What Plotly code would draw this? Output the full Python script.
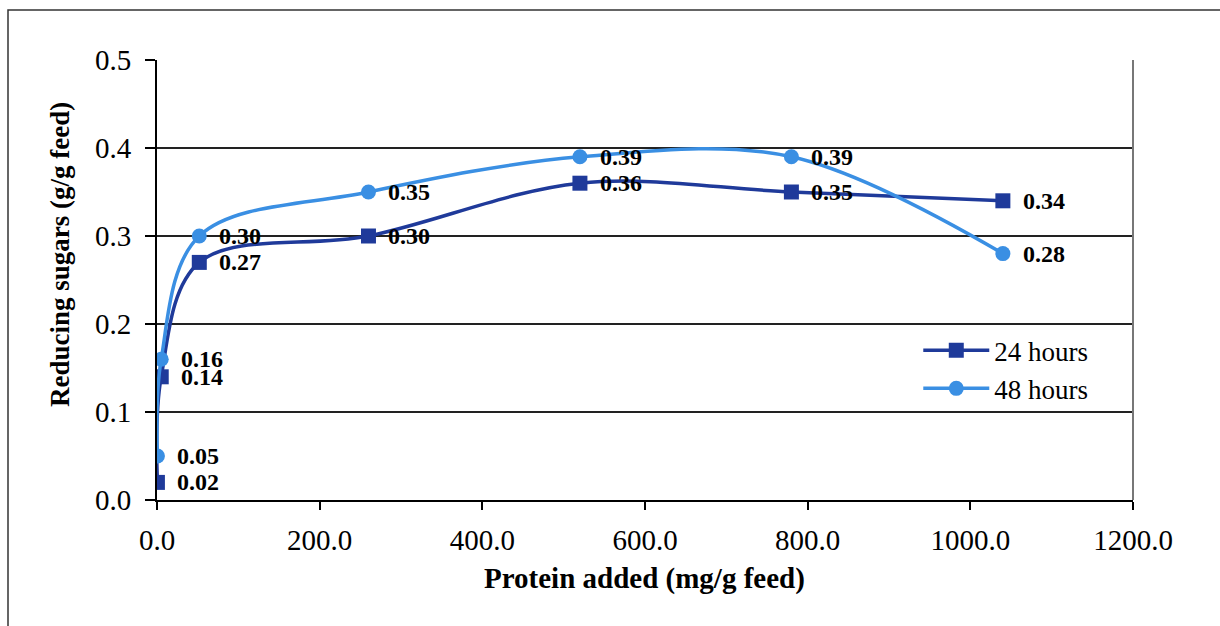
import plotly.graph_objects as go

protein = [0.52, 5.2, 52, 260, 520, 780, 1040]
sugars_24h = [0.02, 0.14, 0.27, 0.30, 0.36, 0.35, 0.34]
sugars_48h = [0.05, 0.16, 0.30, 0.35, 0.39, 0.39, 0.28]
x_ticks = [0, 200, 400, 600, 800, 1000, 1200]
y_ticks = [0.0, 0.1, 0.2, 0.3, 0.4, 0.5]

SERIF = "Liberation Serif, Times New Roman, serif"
C24 = "#1f3a9a"
C48 = "#3a8fe3"

fig = go.Figure()
fig.add_trace(go.Scatter(
    x=protein, y=sugars_24h, name="24 hours", mode="lines+markers",
    legendgroup="a",
    line=dict(color=C24, width=3.5, shape="spline", smoothing=1.0),
    marker=dict(symbol="square", size=15, color=C24),
))
fig.add_trace(go.Scatter(
    x=protein, y=sugars_48h, name="48 hours", mode="lines+markers",
    legendgroup="b",
    line=dict(color=C48, width=3.5, shape="spline", smoothing=1.0),
    marker=dict(symbol="circle", size=15, color=C48),
))

annotations = []
for series in (sugars_24h, sugars_48h):
    for xv, yv in zip(protein, series):
        annotations.append(dict(
            x=xv, y=yv, xref="x", yref="y", text=f"{yv:.2f}", showarrow=False,
            xanchor="left", yanchor="middle", xshift=18,
            font=dict(family=SERIF, size=24, color="black", weight="bold"),
        ))

annotations.append(dict(
    x=(644 - 157) / 976, y=(500 - 578) / 440, xref="paper", yref="paper",
    text="Protein added (mg/g feed)", showarrow=False,
    xanchor="center", yanchor="middle",
    font=dict(family=SERIF, size=29, color="black", weight="bold"),
))
annotations.append(dict(
    x=(60 - 157) / 976, y=(500 - 255) / 440, xref="paper", yref="paper",
    text="Reducing sugars (g/g feed)", showarrow=False, textangle=-90,
    xanchor="center", yanchor="middle",
    font=dict(family=SERIF, size=27, color="black", weight="bold"),
))

fig.update_layout(
    width=1220, height=626,
    margin=dict(l=157, r=87, t=60, b=126),
    paper_bgcolor="white", plot_bgcolor="white",
    font=dict(family=SERIF, color="black"),
    xaxis=dict(
        range=[0, 1200], tickvals=x_ticks, ticktext=[f"{v:.1f}" for v in x_ticks],
        showgrid=False, zeroline=False, showline=True, linecolor="black", linewidth=2,
        ticks="outside", ticklen=8, tickwidth=1.5, tickcolor="black",
        ticklabelstandoff=5,
        tickfont=dict(family=SERIF, size=29, color="black"),
    ),
    yaxis=dict(
        range=[0, 0.5], tickvals=y_ticks, ticktext=[f"{v:.1f}" for v in y_ticks],
        showgrid=True, gridcolor="#222222", gridwidth=1.5, zeroline=False,
        showline=True, linecolor="black", linewidth=2,
        ticks="outside", ticklen=10, tickwidth=1.5, tickcolor="black",
        ticklabelstandoff=8,
        tickfont=dict(family=SERIF, size=29, color="black"),
    ),
    legend=dict(
        x=0.78, y=0.395, xanchor="left", yanchor="top",
        bgcolor="rgba(255,255,255,0)", borderwidth=0,
        font=dict(family=SERIF, size=27, color="black"),
        tracegroupgap=0, itemwidth=66,
    ),
    annotations=annotations,
    shapes=[
        dict(type="line", xref="paper", yref="paper", x0=1, x1=1, y0=0, y1=1,
             line=dict(color="#777777", width=2)),
        dict(type="rect", xref="paper", yref="paper",
             x0=-149/976, x1=(1230-157)/976, y0=-(640-500)/440, y1=(500-10)/440,
             line=dict(color="#333333", width=1.5), layer="below"),
    ],
)

fig.write_html("out.html")
